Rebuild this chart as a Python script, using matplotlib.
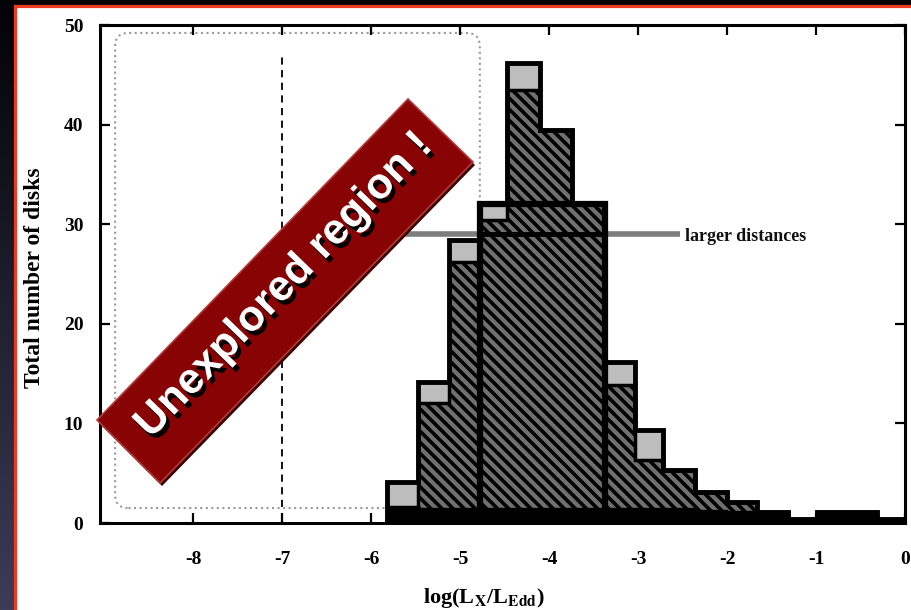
import numpy as np
import matplotlib
matplotlib.use("Agg")
import matplotlib.pyplot as plt
import matplotlib.patheffects as pe
from matplotlib.patches import Rectangle, Polygon, FancyBboxPatch

plt.rcParams['axes.unicode_minus'] = False
plt.rcParams['hatch.linewidth'] = 2.6
plt.rcParams['mathtext.fontset'] = 'stix'

# histogram bins, log(Lx/Ledd)
edges = [-5.82, -5.48, -5.13, -4.78, -4.47, -4.10, -3.74, -3.37, -3.03,
         -2.72, -2.36, -2.00, -1.66, -1.31, -0.99, -0.65, -0.31, 0.0]
# total counts (grey tops)
total = [4.1, 14.2, 28.4, 32.0, 46.2, 39.5, 32.1, 16.2, 9.3,
         5.3, 3.1, 2.1, 1.1, 0.4, 1.1, 1.1, 0.4]
# hatched counts
hatched = [1.6, 12.0, 26.2, 30.4, 43.5, 39.5, 32.1, 13.9, 6.3,
           5.3, 3.1, 2.1, 1.1, 0.4, 1.1, 1.1, 0.4]
# black base layer
base = [1.6, 1.5, 1.5, 1.5, 1.5, 1.5, 1.5, 1.5, 1.5,
        1.5, 1.3, 1.2, 1.1, 0.4, 1.1, 1.1, 0.4]
# wide-bin histogram
wide_edges = [-4.78, -3.37]
wide_outer = [32.0]
wide_inner = [29.0]

xticks = [-8, -7, -6, -5, -4, -3, -2, -1, 0]
yticks = [0, 10, 20, 30, 40, 50]

W, H = 911, 610
fig = plt.figure(figsize=(W / 100, H / 100), dpi=100)

# slide background
bg = fig.add_axes([0, 0, 1, 1])
bg.axis('off')
grad = np.linspace(0, 1, 256).reshape(-1, 1)
cmap = matplotlib.colors.LinearSegmentedColormap.from_list('bgc', ['#020206', '#3c3c57'])
bg.imshow(grad, aspect='auto', cmap=cmap, extent=[0, 1, 0, 1], origin='upper')
bg.set_xlim(0, 1)
bg.set_ylim(0, 1)
bg.add_patch(Rectangle((15.5 / W, -0.05), 1.1, 1 - 5.5 / H + 0.05,
                       facecolor='white', edgecolor='#f03a1e', lw=2.3,
                       transform=bg.transAxes))


def fx(px):
    return px / W


def fy(py):
    return 1 - py / H


ax = fig.add_axes([fx(100), fy(523), 805 / W, 498 / H])
ax.set_facecolor('none')
ax.set_xlim(-9.05, 0)
ax.set_ylim(0, 50)

e = np.array(edges)
left = e[:-1]
widths = np.diff(e)

# dotted rounded box
ax.add_patch(FancyBboxPatch((-8.88, 1.5), 4.1, 47.7,
                            boxstyle="round,pad=0,rounding_size=0.15",
                            mutation_aspect=8.9, fill=False,
                            edgecolor='#9a9a9a', lw=1.5, ls=':', zorder=1))
ax.vlines(-7, 1.6, 47.2, colors='black', linestyles=(0, (4, 3)), lw=1.3, zorder=1)

# legend line
ax.hlines(29, -6.2, -2.53, colors='#7d7d7d', lw=4, zorder=1)
ax.text(-2.47, 28.8, 'larger distances', ha='left', va='center',
        fontsize=13, family='Liberation Serif', weight='bold', color='#111111')

ax.bar(left, total, width=widths, align='edge', facecolor='#bdbdbd',
       edgecolor='black', lw=0, zorder=2)
ax.bar(left, hatched, width=widths, align='edge', facecolor='#707070',
       edgecolor='black', hatch='\\\\\\', lw=0, zorder=3)
ax.bar(left, base, width=widths, align='edge', facecolor='black',
       edgecolor='black', lw=1, zorder=4)
ax.stairs(total, edges, color='black', lw=3.5, zorder=5)
ax.stairs(hatched, edges, color='black', lw=2.5, zorder=5)
ax.stairs(wide_outer, wide_edges, color='black', lw=4.5, zorder=5)
ax.stairs(wide_inner, wide_edges, color='black', lw=3.5, zorder=5)

for s in ax.spines.values():
    s.set_linewidth(2.2)
    s.set_zorder(6)
ax.set_xticks(xticks)
ax.set_yticks(yticks)
ax.tick_params(direction='in', length=7, width=1.6, top=True, right=True,
               labelsize=14)
ax.tick_params(axis='y', pad=12)
ax.tick_params(axis='x', pad=20)
for lab in ax.get_xticklabels() + ax.get_yticklabels():
    lab.set_family('Liberation Serif')
    lab.set_weight('bold')

fig.text(fx(35), fy(278), 'Total number of disks', rotation=90,
         ha='center', va='center', fontsize=17, family='Liberation Serif',
         weight='bold')
fig.text(fx(484), fy(598), r'log(L$_{\mathbf{X}}$/L$_{\mathbf{Edd}}$)',
         ha='center', va='center', fontsize=16, family='Liberation Serif',
         weight='bold')

# banner overlay
corners = [(97, 420), (408, 99), (473, 162), (160, 483)]
shadow = Polygon([(fx(x + 2), fy(y + 3)) for x, y in corners], closed=True,
                 facecolor='#3a0000', edgecolor='none', transform=fig.transFigure,
                 zorder=10)
fig.patches.append(shadow)
banner = Polygon([(fx(x), fy(y)) for x, y in corners], closed=True,
                 facecolor='#880303', edgecolor='#b33a3a', lw=1.2,
                 transform=fig.transFigure, zorder=11)
fig.patches.append(banner)
fig.text(fx(284), fy(286), 'Unexplored region !', rotation=45.9,
         rotation_mode='anchor', ha='center', va='center', fontsize=31,
         family='Liberation Sans', weight='bold', color='white', zorder=12,
         path_effects=[pe.withSimplePatchShadow(offset=(2.5, -3.2),
                                                shadow_rgbFace='black', alpha=1)])

fig.savefig('out.png', dpi=100)
